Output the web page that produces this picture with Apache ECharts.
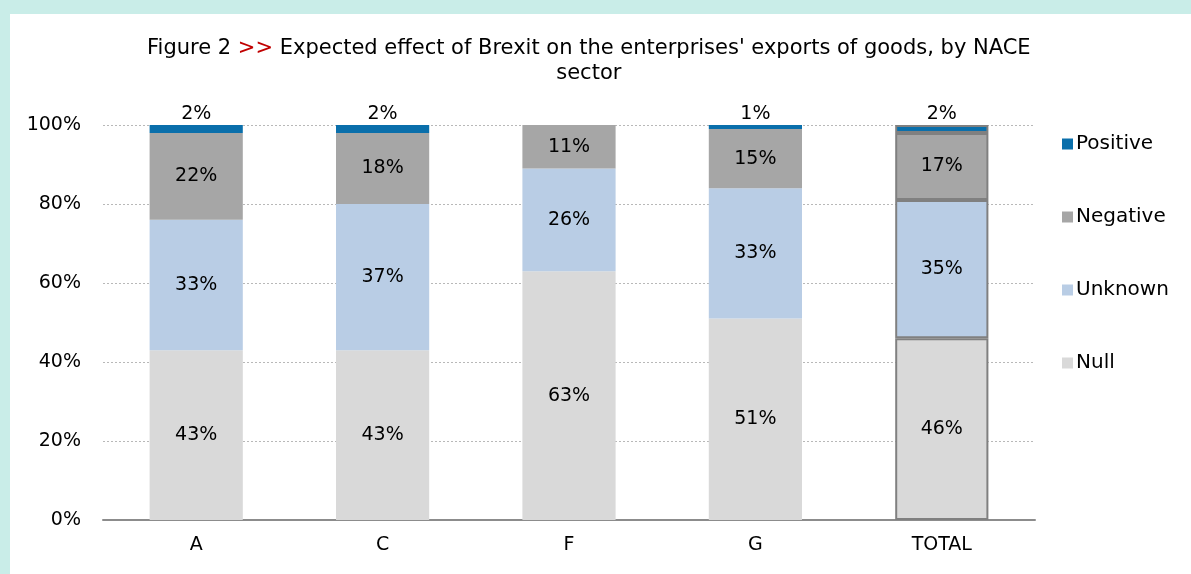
<!DOCTYPE html>
<html>
<head>
<meta charset="utf-8">
<script src="https://cdn.jsdelivr.net/npm/echarts@6/dist/echarts.min.js"></script>
<style>
  html, body { margin: 0; padding: 0; background: #c9ede8; }
  #chart {
    position: absolute;
    left: 10px;
    top: 14px;
    width: 1181px;
    height: 560px;
    background: #ffffff;
  }
</style>
</head>
<body>
<div id="chart"></div>
<script>
// 数据
const sectors = ['A', 'C', 'F', 'G', 'TOTAL']
const nullVals = [43, 43, 63, 51, 46]
const unknownVals = [33, 37, 26, 33, 35]
const negativeVals = [22, 18, 11, 15, 17]
const positiveVals = [2, 2, 0, 1, 2]
const yTicks = [0, 20, 40, 60, 80, 100]

const FONT = 'DejaVu Sans'
const chart = echarts.init(document.getElementById('chart'))

// TOTAL 柱子有灰色边框
function withTotalBorder (vals) {
  return vals.map((v, i) => sectors[i] === 'TOTAL'
    ? { value: v, itemStyle: { borderColor: '#808080', borderWidth: 2 } }
    : v)
}

const innerLabel = {
  show: true,
  position: 'inside',
  color: '#000',
  fontSize: 19,
  fontFamily: FONT,
  formatter: p => p.value + '%'
}

const option = {
  animation: false,
  title: {
    text: '{t|Figure 2 }{r|>>}{t| Expected effect of Brexit on the enterprises\' exports of goods, by NACE}\n{t|sector}',
    left: 132,
    top: 17,
    textAlign: 'left',
    textStyle: {
      align: 'center',
      rich: {
        t: { fontSize: 21, fontFamily: FONT, fontWeight: 'normal', color: '#000', lineHeight: 25, align: 'center' },
        r: { fontSize: 21, fontFamily: FONT, fontWeight: 'normal', color: '#c00000', lineHeight: 25, align: 'center' }
      }
    }
  },
  legend: {
    orient: 'vertical',
    left: 1047,
    top: 115,
    itemWidth: 11,
    itemHeight: 11,
    itemGap: 53,
    icon: 'rect',
    data: ['Positive', 'Negative', 'Unknown', 'Null'],
    textStyle: { fontSize: 20, fontFamily: FONT, color: '#000', padding: [0, 0, 0, -2] }
  },
  grid: {
    left: 93,
    right: 156,
    top: 111,
    bottom: 54,
    containLabel: false
  },
  xAxis: {
    type: 'category',
    data: sectors,
    axisTick: { show: false },
    axisLine: { lineStyle: { color: '#8c8c8c', width: 2 } },
    axisLabel: { fontSize: 19, fontFamily: FONT, color: '#000', margin: 16 }
  },
  yAxis: {
    type: 'value',
    min: yTicks[0],
    max: yTicks[yTicks.length - 1],
    interval: 20,
    axisLine: { show: false },
    axisTick: { show: false },
    axisLabel: { fontSize: 19, fontFamily: FONT, color: '#000', margin: 22, formatter: '{value}%' },
    splitLine: { lineStyle: { type: [2, 2], color: '#b8b8b8', width: 1 } }
  },
  series: [
    {
      name: 'Null',
      type: 'bar',
      stack: 'all',
      barWidth: '50%',
      itemStyle: { color: '#d9d9d9' },
      label: innerLabel,
      data: withTotalBorder(nullVals)
    },
    {
      name: 'Unknown',
      type: 'bar',
      stack: 'all',
      itemStyle: { color: '#b9cde5' },
      label: innerLabel,
      data: withTotalBorder(unknownVals)
    },
    {
      name: 'Negative',
      type: 'bar',
      stack: 'all',
      itemStyle: { color: '#a6a6a6' },
      label: innerLabel,
      data: withTotalBorder(negativeVals)
    },
    {
      name: 'Positive',
      type: 'bar',
      stack: 'all',
      itemStyle: { color: '#0a6fab' },
      label: {
        show: true,
        position: 'top',
        distance: 1,
        color: '#000',
        fontSize: 19,
        fontFamily: FONT,
        formatter: p => p.value > 0 ? p.value + '%' : ''
      },
      data: withTotalBorder(positiveVals)
    }
  ]
}

chart.setOption(option)
</script>
</body>
</html>
